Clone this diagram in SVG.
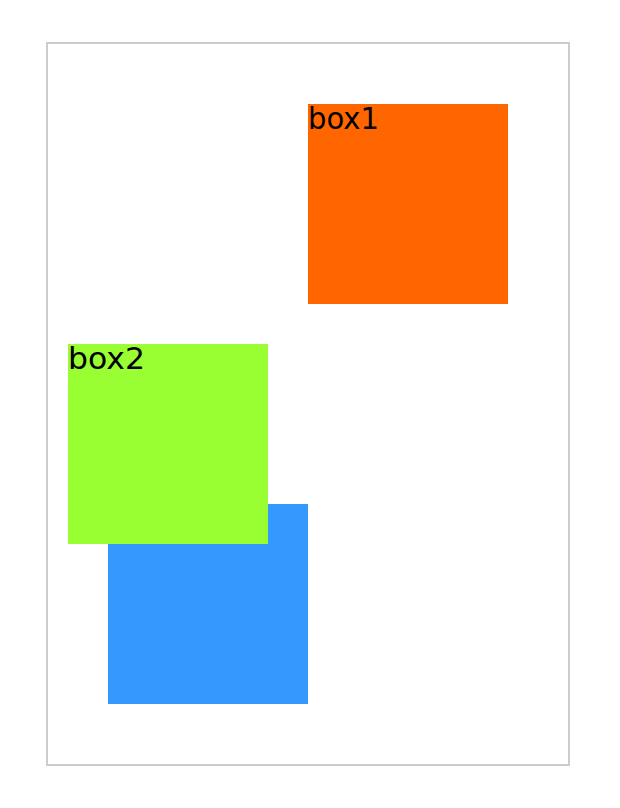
<svg xmlns="http://www.w3.org/2000/svg" width="620" height="808" viewBox="0 0 620 808">
<style>
.lbl{font-family:"Century Gothic","DejaVu Sans",sans-serif;font-size:30px;fill:#000}
</style>
<rect width="620" height="808" fill="#fff"/>
<rect x="47" y="43" width="522" height="722" fill="none" stroke="#cccccc" stroke-width="2"/>
<g id="box1">
<rect x="308" y="104" width="200" height="200" fill="#ff6600"/>
<text class="lbl" x="308" y="129" textLength="71" lengthAdjust="spacingAndGlyphs">box1</text>
</g>
<g id="box3">
<rect x="108" y="504" width="200" height="200" fill="#3399ff"/>
</g>
<g id="box2">
<rect x="68" y="344" width="200" height="200" fill="#99ff33"/>
<text class="lbl" x="68" y="369" textLength="77" lengthAdjust="spacingAndGlyphs">box2</text>
</g>
<g id="connectors"/>
</svg>
